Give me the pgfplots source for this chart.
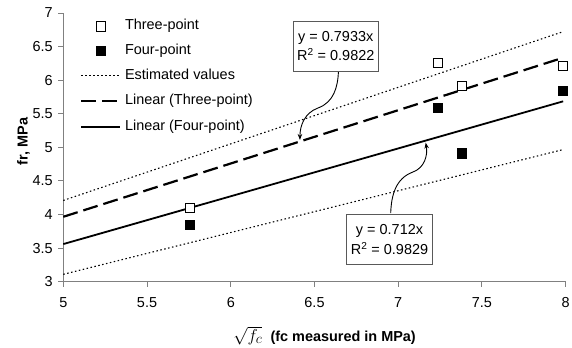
\documentclass[border=0pt]{standalone}
\usepackage{fontspec}
\setmainfont{Liberation Sans}
\usepackage{pgfplots}
\pgfplotsset{compat=1.18}
\usetikzlibrary{arrows.meta}
\newcommand{\cf}{\fontsize{14.5}{17}\selectfont}

\begin{document}
\begin{tikzpicture}
\begin{axis}[
  scale only axis,
  width=502.4bp, height=268.7bp,
  xmin=5, xmax=8, ymin=3, ymax=7,
  xtick={5,5.5,6,6.5,7,7.5,8},
  ytick={3,3.5,4,4.5,5,5.5,6,6.5,7},
  axis x line*=bottom, axis y line*=left,
  axis line style={draw=black!50, line width=1bp},
  tick style={draw=black!50, line width=1bp},
  tick align=outside, major tick length=5bp,
  ticklabel style={font=\cf},
  xticklabel style={yshift=-7bp},
  yticklabel style={xshift=-2bp},
  /pgf/number format/assume math mode=true,
  xlabel={{\fontsize{19}{22}\selectfont$\sqrt{f_c}$}\ \ (fc measured in MPa)},
  xlabel style={font=\cf\bfseries, at={(axis description cs:0.52,-0.2207)}, anchor=base},
  ylabel={fr, MPa},
  ylabel style={font=\cf\bfseries, at={(axis description cs:-0.0792,0.5218)}, anchor=center},
  legend style={at={(axis description cs:0.0335,0.9963)}, anchor=north west, draw=none, fill=none,
    inner sep=0pt, font=\cf, row sep=0bp,
    nodes={inner ysep=0pt, inner xsep=3.5bp, text height=10.5bp, text depth=3.5bp}},
  legend cell align=left,
  clip=false,
]
\addplot[only marks, mark=square*, mark options={fill=white, draw=black, line width=0.8bp}, mark size=4.6bp,
  legend image code/.code={\path (0bp,-12bp) (39bp,12bp); \pgfinterruptboundingbox \draw[mark repeat=2,mark phase=2] plot coordinates {(0bp,0bp) (19.5bp,0bp) (39bp,0bp)};\endpgfinterruptboundingbox}]
  coordinates {(5.756,4.10) (7.239,6.26) (7.378,5.91) (7.985,6.21)};
\addlegendentry{Three-point}
\addplot[only marks, mark=square*, mark options={fill=black, draw=black, line width=0.8bp}, mark size=4.6bp,
  legend image code/.code={\path (0bp,-12bp) (39bp,12bp); \pgfinterruptboundingbox \draw[mark repeat=2,mark phase=2] plot coordinates {(0bp,0bp) (19.5bp,0bp) (39bp,0bp)};\endpgfinterruptboundingbox}]
  coordinates {(5.756,3.85) (7.239,5.59) (7.378,4.91) (7.985,5.84)};
\addlegendentry{Four-point}
\addplot[black, line width=1.1bp, dash pattern=on 1.5bp off 2.5bp,
  legend image code/.code={\path (0bp,-12bp) (39bp,12bp); \pgfinterruptboundingbox \draw (0bp,0bp) -- (39bp,0bp);\endpgfinterruptboundingbox}]
  coordinates {(5,4.21) (7.985,6.723)};
\addlegendentry{Estimated values}
\addplot[black, line width=2.2bp, dash pattern=on 15bp off 6bp,
  legend image code/.code={\path (0bp,-12bp) (39bp,12bp); \pgfinterruptboundingbox \draw (0bp,0bp) -- (39bp,0bp);\endpgfinterruptboundingbox}]
  coordinates {(5,3.9665) (7.985,6.3345)};
\addlegendentry{Linear (Three-point)}
\addplot[black, line width=1.8bp,
  legend image code/.code={\path (0bp,-12bp) (39bp,12bp); \pgfinterruptboundingbox \draw (0bp,0bp) -- (39bp,0bp);\endpgfinterruptboundingbox}]
  coordinates {(5,3.56) (7.985,5.6853)};
\addlegendentry{Linear (Four-point)}
\addplot[black, line width=1.1bp, dash pattern=on 1.5bp off 2.5bp, forget plot]
  coordinates {(5,3.11) (7.985,4.967)};

\draw[black, line width=0.9bp, -{Stealth[length=6bp,width=4.5bp]}]
  (axis cs:6.643,6.137) to[out=-92,in=20] (axis cs:6.521,5.586) to[out=200,in=90] (axis cs:6.413,5.11);
\draw[black, line width=0.9bp, -{Stealth[length=6bp,width=4.5bp]}]
  (axis cs:6.955,4.02) to[out=88,in=200] (axis cs:7.088,4.633) to[out=20,in=-80] (axis cs:7.164,5.07);

\node[draw=black!65, fill=white, line width=0.8bp, align=center, font=\fontsize{14.5}{19.5}\selectfont,
  minimum width=85.7bp, minimum height=50bp, inner sep=1bp] at (axis cs:6.627,6.509)
  {y = 0.7933x\\R\textsuperscript{2} = 0.9822};
\node[draw=black!65, fill=white, line width=0.8bp, align=center, font=\fontsize{14.5}{19.5}\selectfont,
  minimum width=85.7bp, minimum height=50bp, inner sep=1bp] at (axis cs:6.948,3.625)
  {y = 0.712x\\R\textsuperscript{2} = 0.9829};
\end{axis}
\pgfresetboundingbox
\path (-63.3bp,-66.3bp) rectangle (508.7bp,281.7bp);
\end{tikzpicture}
\end{document}
